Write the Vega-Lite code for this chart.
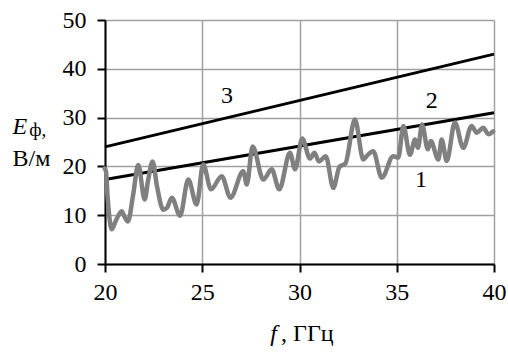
{
  "$schema": "https://vega.github.io/schema/vega-lite/v6.json",
  "autosize": {"type": "none"},
  "width": 389,
  "height": 244,
  "padding": {"left": 105, "top": 20, "right": 14, "bottom": 92},
  "background": "white",
  "config": {
    "view": {"stroke": null},
    "font": "Liberation Serif",
    "axis": {
      "labelFont": "Liberation Serif",
      "labelFontSize": 24,
      "labelColor": "black",
      "tickColor": "black",
      "tickWidth": 2,
      "tickSize": 8,
      "domainColor": "black",
      "domainWidth": 2,
      "gridColor": "#a0a0a0",
      "gridWidth": 1.5,
      "title": null
    },
    "text": {"font": "Liberation Serif", "color": "black"}
  },
  "datasets": {
    "curve1": [
      {"f": 19.98, "E": 19.6}, {"f": 20.05, "E": 19.0}, {"f": 20.13, "E": 14.0}, {"f": 20.22, "E": 9.8},
      {"f": 20.34, "E": 7.1}, {"f": 20.57, "E": 9.0}, {"f": 20.86, "E": 10.8}, {"f": 21.0, "E": 9.7},
      {"f": 21.18, "E": 8.7}, {"f": 21.44, "E": 14.0}, {"f": 21.71, "E": 20.3}, {"f": 22.04, "E": 13.2},
      {"f": 22.21, "E": 17.0}, {"f": 22.45, "E": 21.0}, {"f": 22.67, "E": 16.0}, {"f": 23.0, "E": 11.1},
      {"f": 23.2, "E": 11.6}, {"f": 23.43, "E": 13.6}, {"f": 23.86, "E": 9.9}, {"f": 24.28, "E": 17.3},
      {"f": 24.71, "E": 12.2}, {"f": 25.05, "E": 20.4}, {"f": 25.45, "E": 15.3}, {"f": 26.0, "E": 18.0},
      {"f": 26.45, "E": 13.6}, {"f": 27.11, "E": 19.0}, {"f": 27.29, "E": 16.3}, {"f": 27.59, "E": 24.1},
      {"f": 28.14, "E": 17.3}, {"f": 28.57, "E": 19.4}, {"f": 28.96, "E": 15.3}, {"f": 29.51, "E": 22.8},
      {"f": 29.77, "E": 19.4}, {"f": 30.14, "E": 25.7}, {"f": 30.54, "E": 21.6}, {"f": 30.77, "E": 22.8},
      {"f": 31.0, "E": 21.0}, {"f": 31.35, "E": 22.1}, {"f": 31.74, "E": 15.6}, {"f": 32.05, "E": 19.9},
      {"f": 32.36, "E": 20.6}, {"f": 32.85, "E": 29.6}, {"f": 33.28, "E": 21.4}, {"f": 33.45, "E": 22.1},
      {"f": 33.79, "E": 23.1}, {"f": 34.23, "E": 17.7}, {"f": 34.82, "E": 22.1}, {"f": 35.08, "E": 21.8},
      {"f": 35.34, "E": 28.3}, {"f": 35.68, "E": 22.4}, {"f": 35.94, "E": 25.5}, {"f": 36.09, "E": 23.8},
      {"f": 36.3, "E": 28.6}, {"f": 36.6, "E": 23.5}, {"f": 36.75, "E": 25.2}, {"f": 37.14, "E": 21.4},
      {"f": 37.31, "E": 25.5}, {"f": 37.57, "E": 21.1}, {"f": 37.99, "E": 29.0}, {"f": 38.42, "E": 23.8},
      {"f": 38.85, "E": 28.3}, {"f": 39.11, "E": 26.9}, {"f": 39.45, "E": 27.9}, {"f": 39.71, "E": 26.6},
      {"f": 39.96, "E": 27.2}
    ],
    "lines": [
      {"s": "2", "f": 20, "E": 17.3}, {"s": "2", "f": 40, "E": 31.0},
      {"s": "3", "f": 20, "E": 24.0}, {"s": "3", "f": 40, "E": 43.0}
    ],
    "labels": [
      {"t": "1", "f": 36.25, "E": 17.3},
      {"t": "2", "f": 36.8, "E": 33.4},
      {"t": "3", "f": 26.27, "E": 34.4}
    ]
  },
  "layer": [
    {
      "data": {"name": "lines"},
      "mark": {"type": "line", "color": "black", "strokeWidth": 3},
      "encoding": {
        "x": {
          "field": "f", "type": "quantitative",
          "scale": {"domain": [20, 40], "nice": false, "zero": false},
          "axis": {"values": [20, 25, 30, 35, 40], "grid": true, "labelPadding": 8, "labelFlush": false}
        },
        "y": {
          "field": "E", "type": "quantitative",
          "scale": {"domain": [0, 50], "nice": false},
          "axis": {"values": [0, 10, 20, 30, 40, 50], "grid": true, "labelPadding": 11, "labelFlush": false}
        },
        "detail": {"field": "s"}
      }
    },
    {
      "data": {"name": "curve1"},
      "mark": {"type": "line", "color": "#808080", "strokeWidth": 4.5, "interpolate": "monotone", "strokeJoin": "round", "strokeCap": "round"},
      "encoding": {
        "x": {"field": "f", "type": "quantitative"},
        "y": {"field": "E", "type": "quantitative"}
      }
    },
    {
      "data": {"name": "labels"},
      "mark": {"type": "text", "fontSize": 24, "baseline": "middle", "align": "center"},
      "encoding": {
        "x": {"field": "f", "type": "quantitative"},
        "y": {"field": "E", "type": "quantitative"},
        "text": {"field": "t"}
      }
    },
    {
      "data": {"values": [{}]},
      "mark": {"type": "text", "fontSize": 24, "fontStyle": "italic", "align": "left", "baseline": "middle"},
      "encoding": {"x": {"datum": 15.25}, "y": {"datum": 28.0}, "text": {"value": "E"}}
    },
    {
      "data": {"values": [{}]},
      "mark": {"type": "text", "fontSize": 19, "align": "left", "baseline": "middle"},
      "encoding": {"x": {"datum": 16.1}, "y": {"datum": 27.4}, "text": {"value": "ф,"}}
    },
    {
      "data": {"values": [{}]},
      "mark": {"type": "text", "fontSize": 24, "align": "left", "baseline": "middle"},
      "encoding": {"x": {"datum": 15.25}, "y": {"datum": 21.6}, "text": {"value": "В/м"}}
    },
    {
      "data": {"values": [{}]},
      "mark": {"type": "text", "fontSize": 24, "fontStyle": "italic", "align": "left", "baseline": "middle"},
      "encoding": {"x": {"datum": 28.5}, "y": {"datum": -14.3}, "text": {"value": "f"}}
    },
    {
      "data": {"values": [{}]},
      "mark": {"type": "text", "fontSize": 24, "align": "left", "baseline": "middle"},
      "encoding": {"x": {"datum": 29.05}, "y": {"datum": -14.3}, "text": {"value": ", ГГц"}}
    }
  ]
}
